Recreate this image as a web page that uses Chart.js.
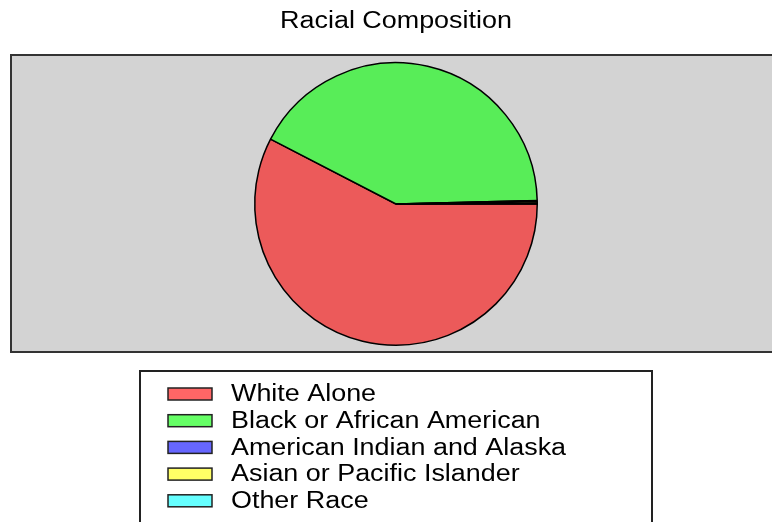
<!DOCTYPE html>
<html>
<head>
<meta charset="utf-8">
<script src="https://cdn.jsdelivr.net/npm/chart.js@4.4.0/dist/chart.umd.min.js"></script>
<style>
  html, body { margin: 0; padding: 0; background: #fff; }
  #wrap { width: 772px; height: 522px; }
</style>
</head>
<body>
<div id="wrap"><canvas id="raceChart" width="772" height="522"></canvas></div>
<script>
// Racial composition (share of population, %)
const chartTitle = "Racial Composition";
const raceLabels = ["White Alone", "Black or African American", "American Indian and Alaska", "Asian or Pacific Islander", "Other Race"];
const raceValues = [57.6, 42.0, 0.1, 0.2, 0.1];

// slice colours and the lighter legend swatches
const sliceColors = ["#ec5a5a", "#58ed58", "#5a5aec", "#ecec5a", "#5aecec"];
const swatchColors = ["#ff6666", "#66ff66", "#6666ff", "#ffff66", "#66ffff"];

const FONT = "23px 'Liberation Sans', Arial, sans-serif";
const STRETCH = 1.17; // the original text is a bit wider than Arial

function wideText(ctx, text, x, y, align) {
    ctx.save();
    ctx.translate(x, y);
    ctx.scale(STRETCH, 1);
    ctx.textAlign = align;
    ctx.fillText(text, 0, 0);
    ctx.restore();
}

// grey panel behind the pie, title, and boxed legend underneath
const panelAndLegend = {
    id: "panelAndLegend",
    beforeDraw(chart) {
        const ctx = chart.ctx;
        ctx.save();
        ctx.fillStyle = "#d3d3d3";
        ctx.fillRect(11, 55, 770, 297);
        ctx.strokeStyle = "#333";
        ctx.lineWidth = 2;
        ctx.strokeRect(11, 55, 770, 297);

        ctx.font = FONT;
        ctx.textBaseline = "middle";
        ctx.fillStyle = "#000";
        wideText(ctx, chartTitle, 396, 22, "center");
        ctx.restore();
    },
    afterDraw(chart) {
        const ctx = chart.ctx;
        ctx.save();
        ctx.fillStyle = "#fff";
        ctx.fillRect(140, 371, 512, 160);
        ctx.strokeStyle = "#222";
        ctx.lineWidth = 2;
        ctx.strokeRect(140, 371, 512, 160);

        ctx.font = FONT;
        ctx.textBaseline = "middle";
        raceLabels.forEach((label, i) => {
            const y = 394 + i * 26.7;
            ctx.fillStyle = swatchColors[i];
            ctx.fillRect(168, y - 6, 44, 12);
            ctx.strokeStyle = "#222";
            ctx.lineWidth = 1.5;
            ctx.strokeRect(168, y - 6, 44, 12);
            ctx.fillStyle = "#000";
            wideText(ctx, label, 231, y + 1, "left");
        });
        ctx.restore();
    }
};

new Chart("raceChart", {
    type: "pie",
    data: {
        labels: raceLabels,
        datasets: [{
            label: "Population share",
            data: raceValues,
            backgroundColor: sliceColors,
            borderColor: "#000",
            borderWidth: 1.5
        }]
    },
    options: {
        responsive: false,
        animation: false,
        rotation: 90,
        layout: {
            padding: { left: 20, right: 0, top: 62, bottom: 176 }
        },
        plugins: {
            legend: { display: false },
            tooltip: { enabled: false },
            title: { display: false }
        }
    },
    plugins: [panelAndLegend]
});
</script>
</body>
</html>
